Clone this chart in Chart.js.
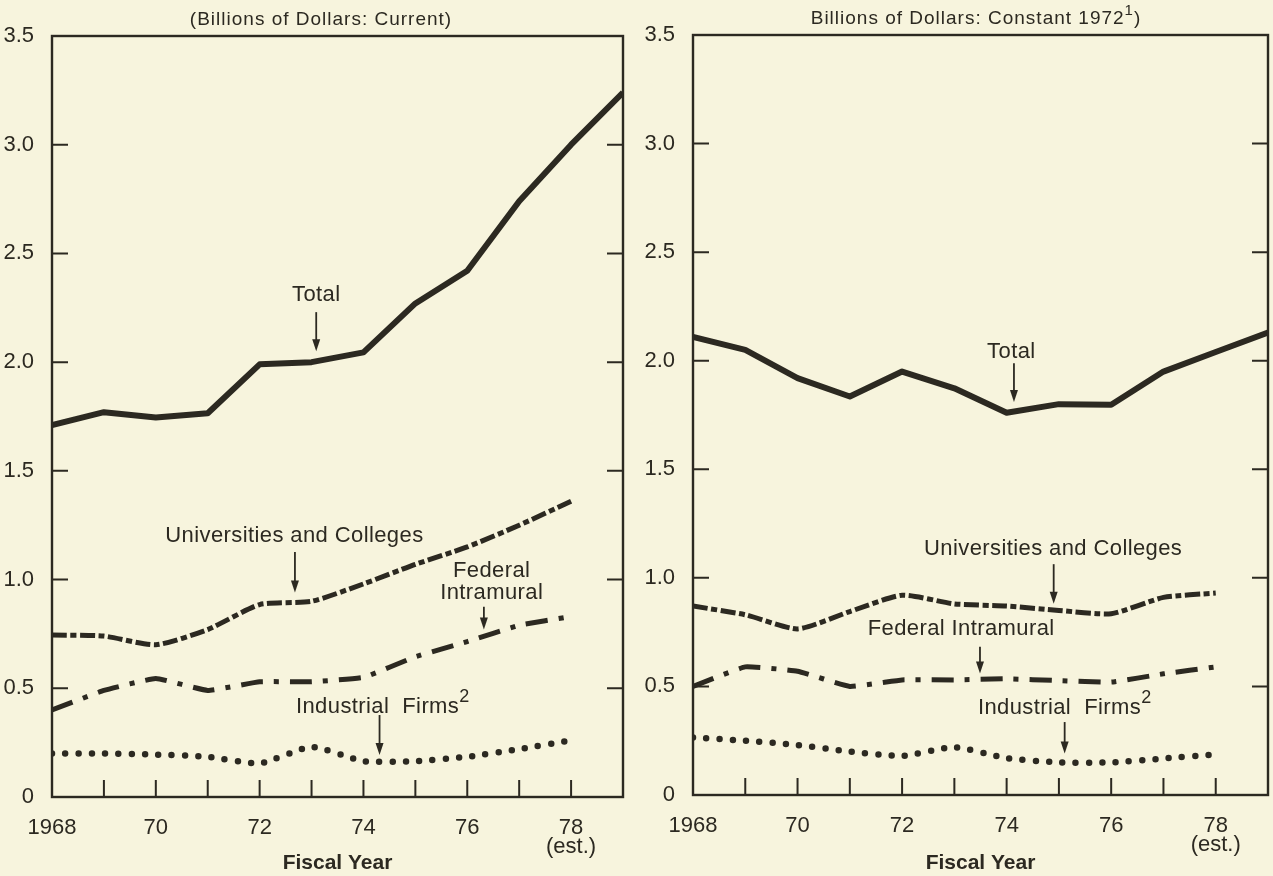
<!DOCTYPE html>
<html>
<head>
<meta charset="utf-8">
<script src="https://cdn.jsdelivr.net/npm/chart.js@4.4.0/dist/chart.umd.min.js"></script>
<style>
  html, body { margin: 0; padding: 0; background: #f7f4dd; }
  #wrap { position: relative; width: 1273px; height: 876px; overflow: hidden; }
  .panel { position: absolute; top: 0; height: 876px; }
</style>
</head>
<body>
<div id="wrap">
  <div class="panel" style="left:0;width:636px"><canvas id="current"></canvas></div>
  <div class="panel" style="left:640px;width:633px"><canvas id="constant"></canvas></div>
</div>
<script>
// *** data for display ***
const YEARS = [1968, 1969, 1970, 1971, 1972, 1973, 1974, 1975, 1976, 1977, 1978];
// the Total line runs on to the right edge of the frame
const TOTAL_YEARS = [1968, 1969, 1970, 1971, 1972, 1973, 1974, 1975, 1976, 1977, 1978, 1979];

// left panel: billions of dollars, current
const CURRENT_TOTAL = [1.71, 1.77, 1.745, 1.765, 1.99, 2.0, 2.045, 2.27, 2.42, 2.74, 3.0, 3.24];
const CURRENT_UNIV  = [0.745, 0.74, 0.70, 0.77, 0.885, 0.90, 0.98, 1.07, 1.15, 1.25, 1.36];
const CURRENT_FED   = [0.40, 0.49, 0.545, 0.49, 0.53, 0.53, 0.55, 0.645, 0.715, 0.79, 0.83];
const CURRENT_IND   = [0.20, 0.20, 0.195, 0.185, 0.155, 0.23, 0.165, 0.165, 0.185, 0.22, 0.26];

// right panel: billions of dollars, constant 1972
const CONSTANT_TOTAL = [2.11, 2.05, 1.92, 1.835, 1.95, 1.873, 1.76, 1.80, 1.797, 1.95, 2.04, 2.13];
const CONSTANT_UNIV  = [0.87, 0.83, 0.765, 0.845, 0.92, 0.88, 0.87, 0.85, 0.835, 0.91, 0.93];
const CONSTANT_FED   = [0.50, 0.59, 0.57, 0.50, 0.53, 0.53, 0.535, 0.527, 0.52, 0.558, 0.59];
const CONSTANT_IND   = [0.265, 0.25, 0.23, 0.20, 0.18, 0.22, 0.17, 0.15, 0.15, 0.168, 0.187];

// axis ticks
const X_TICK_YEARS  = [1968, 1970, 1972, 1974, 1976, 1978];
const X_TICK_LABELS = ['1968', '70', '72', '74', '76', ['78', '(est.)']];
const Y_TICKS = [0, 0.5, 1.0, 1.5, 2.0, 2.5, 3.0, 3.5];

const INK = '#2c2921';
const FONT = '"Liberation Sans", Arial, sans-serif';
Chart.defaults.font.family = FONT;
Chart.defaults.color = INK;

function pts(xs, ys) {
    return ys.map((y, i) => ({ x: xs[i], y: y }));
}

function seriesSets(total, univ, fed, ind) {
    return [
        { data: pts(TOTAL_YEARS, total), borderColor: INK, borderWidth: 6, borderJoinStyle: 'round', tension: 0 },
        { data: pts(YEARS, univ), borderColor: INK, borderWidth: 5, borderDash: [15, 3.5, 6, 3.5], tension: 0.2 },
        { data: pts(YEARS, fed), borderColor: INK, borderWidth: 5, borderDash: [22, 11, 5, 11], tension: 0.1 },
        { data: pts(YEARS, ind), borderColor: INK, borderWidth: 6.5, borderDash: [0, 13.3], borderCapStyle: 'round', tension: 0.2 }
    ];
}

// text made of parts, some of them superscript
function drawParts(ctx, parts, x, y, align, size) {
    const supSize = Math.round(size * 0.8);
    let w = 0;
    parts.forEach(p => {
        ctx.font = (p.sup ? supSize : size) + 'px ' + FONT;
        p.w = ctx.measureText(p.t).width;
        w += p.w;
    });
    let cx = align === 'center' ? x - w / 2 : x;
    ctx.textAlign = 'left';
    ctx.textBaseline = 'middle';
    parts.forEach(p => {
        ctx.font = (p.sup ? supSize : size) + 'px ' + FONT;
        ctx.fillText(p.t, cx, p.sup ? y - size * 0.45 : y);
        cx += p.w;
    });
}

function makeDecor(cfg) {
    return {
        id: 'decor',
        afterDraw(chart) {
            const ctx = chart.ctx, a = chart.chartArea;
            const xs = chart.scales.x, ys = chart.scales.y;
            ctx.save();
            ctx.strokeStyle = INK;
            ctx.fillStyle = INK;

            // frame
            ctx.lineWidth = 2.4;
            ctx.strokeRect(a.left, a.top, a.right - a.left, a.bottom - a.top);

            // tick marks pointing into the plot
            ctx.lineWidth = 2;
            ctx.beginPath();
            YEARS.slice(1).forEach(yr => {
                const px = xs.getPixelForValue(yr);
                ctx.moveTo(px, a.bottom);
                ctx.lineTo(px, a.bottom - 17);
            });
            Y_TICKS.slice(1, -1).forEach(v => {
                const py = ys.getPixelForValue(v);
                ctx.moveTo(a.left, py);
                ctx.lineTo(a.left + 16, py);
                ctx.moveTo(a.right, py);
                ctx.lineTo(a.right - 16, py);
            });
            ctx.stroke();

            // heading
            ctx.letterSpacing = '1px';
            drawParts(ctx, cfg.title, cfg.titleX, cfg.titleY, 'center', 19);

            // series labels with arrows
            ctx.letterSpacing = '0.4px';
            cfg.labels.forEach(l => {
                drawParts(ctx, l.parts, xs.getPixelForValue(l.x), ys.getPixelForValue(l.y), l.align, 22);
                if (l.arrow) {
                    const ax = xs.getPixelForValue(l.arrow.x);
                    const y0 = ys.getPixelForValue(l.arrow.from);
                    const y1 = ys.getPixelForValue(l.arrow.to);
                    ctx.lineWidth = 1.8;
                    ctx.beginPath();
                    ctx.moveTo(ax, y0);
                    ctx.lineTo(ax, y1 - 8);
                    ctx.stroke();
                    ctx.beginPath();
                    ctx.moveTo(ax, y1);
                    ctx.lineTo(ax - 4, y1 - 12);
                    ctx.lineTo(ax + 4, y1 - 12);
                    ctx.closePath();
                    ctx.fill();
                }
            });
            ctx.restore();
        }
    };
}

function makeChart(id, sets, box, decor) {
    return new Chart(document.getElementById(id), {
        type: 'line',
        data: { datasets: sets },
        options: {
            responsive: true,
            maintainAspectRatio: false,
            animation: false,
            layout: { padding: { top: box.top, right: box.right, left: 0, bottom: 0 } },
            elements: { point: { radius: 0 }, line: { fill: false } },
            plugins: { legend: { display: false }, tooltip: { enabled: false } },
            scales: {
                x: {
                    type: 'linear', min: 1968, max: 1979,
                    grid: { display: false }, border: { display: false },
                    afterBuildTicks: s => { s.ticks = X_TICK_YEARS.map(v => ({ value: v })); },
                    afterFit: s => { s.height = box.xHeight; },
                    ticks: {
                        autoSkip: false, maxRotation: 0, padding: 14,
                        font: { size: 22, lineHeight: 0.85 },
                        callback: v => X_TICK_LABELS[X_TICK_YEARS.indexOf(v)]
                    },
                    title: { display: true, text: 'Fiscal Year', font: { size: 21, weight: 'bold' }, padding: 0 }
                },
                y: {
                    min: 0, max: 3.5,
                    grid: { display: false }, border: { display: false },
                    afterBuildTicks: s => { s.ticks = Y_TICKS.map(v => ({ value: v })); },
                    afterFit: s => { s.width = box.yWidth; },
                    ticks: { padding: 10, font: { size: 22 }, callback: v => v === 0 ? '0' : v.toFixed(1) }
                }
            }
        },
        plugins: [decor]
    });
}

// *** display charts ***
makeChart('current',
    seriesSets(CURRENT_TOTAL, CURRENT_UNIV, CURRENT_FED, CURRENT_IND),
    { top: 36, right: 13, xHeight: 79, yWidth: 52 },
    makeDecor({
        title: [{ t: '(Billions of Dollars: Current)' }], titleX: 321, titleY: 20,
        labels: [
            { parts: [{ t: 'Total' }], x: 1973.09, y: 2.31, align: 'center', arrow: { x: 1973.09, from: 2.23, to: 2.05 } },
            { parts: [{ t: 'Universities and Colleges' }], x: 1972.67, y: 1.20, align: 'center', arrow: { x: 1972.68, from: 1.127, to: 0.94 } },
            { parts: [{ t: 'Federal' }], x: 1976.47, y: 1.04, align: 'center' },
            { parts: [{ t: 'Intramural' }], x: 1976.47, y: 0.94, align: 'center', arrow: { x: 1976.32, from: 0.875, to: 0.77 } },
            { parts: [{ t: 'Industrial  Firms' }, { t: '2', sup: true }], x: 1972.70, y: 0.415, align: 'left', arrow: { x: 1974.31, from: 0.377, to: 0.193 } }
        ]
    }));

makeChart('constant',
    seriesSets(CONSTANT_TOTAL, CONSTANT_UNIV, CONSTANT_FED, CONSTANT_IND),
    { top: 35, right: 5, xHeight: 81, yWidth: 53 },
    makeDecor({
        title: [{ t: 'Billions of Dollars: Constant 1972' }, { t: '1', sup: true }, { t: ')' }], titleX: 336, titleY: 19,
        labels: [
            { parts: [{ t: 'Total' }], x: 1974.09, y: 2.04, align: 'center', arrow: { x: 1974.14, from: 1.988, to: 1.81 } },
            { parts: [{ t: 'Universities and Colleges' }], x: 1974.89, y: 1.131, align: 'center', arrow: { x: 1974.9, from: 1.063, to: 0.881 } },
            { parts: [{ t: 'Federal Intramural' }], x: 1973.13, y: 0.766, align: 'center', arrow: { x: 1973.49, from: 0.683, to: 0.56 } },
            { parts: [{ t: 'Industrial  Firms' }, { t: '2', sup: true }], x: 1973.45, y: 0.402, align: 'left', arrow: { x: 1975.11, from: 0.336, to: 0.191 } }
        ]
    }));
</script>
</body>
</html>
